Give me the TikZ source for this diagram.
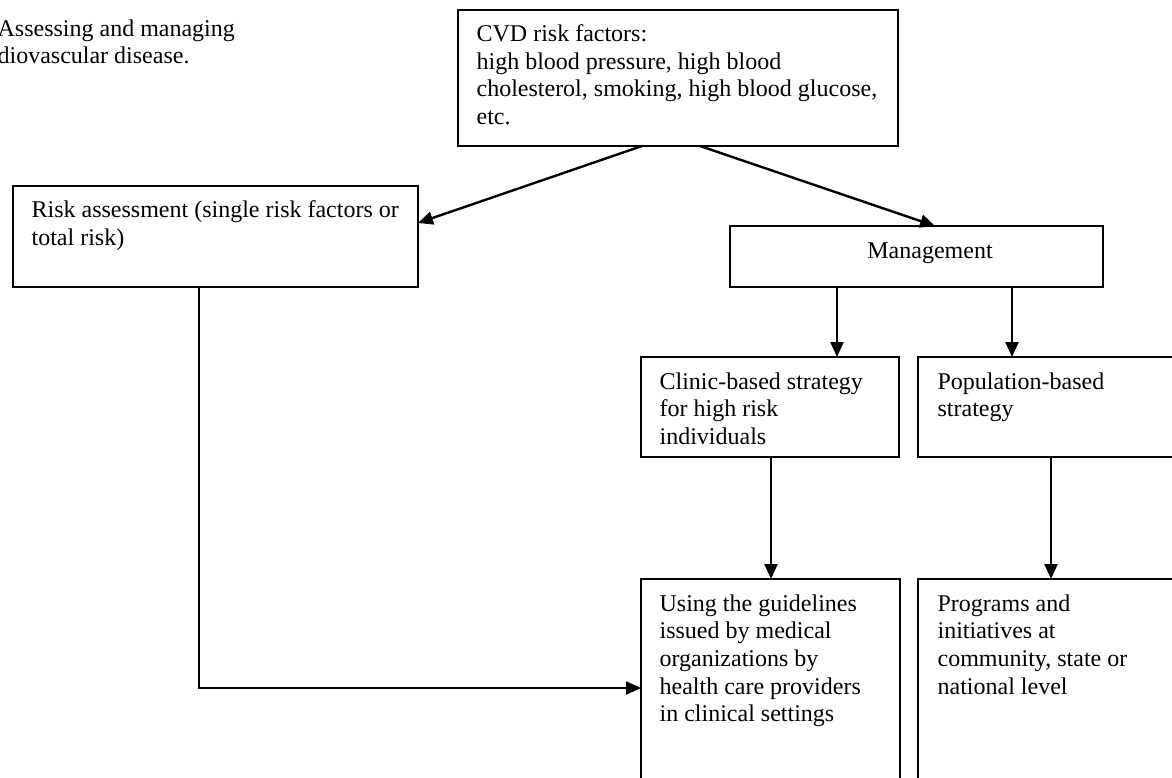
\documentclass[tikz,border=0pt]{standalone}
\usepackage{fontspec}
\setmainfont{Liberation Serif}
\usetikzlibrary{arrows.meta,calc,positioning}

\begin{document}
\begin{tikzpicture}[x=0.5pt,y=0.5pt,>={Triangle[length=7.5pt,width=6.5pt]},
                    semithick]
  \tikzstyle{box}=[rectangle,draw=black,line width=0.8pt,anchor=north west,inner sep=0pt,outer sep=0pt]
  \tikzstyle{txt}=[align=left,inner sep=0pt,font=\fontsize{12pt}{13.8pt}\selectfont]
  \tikzstyle{arr}=[->,line width=1.2pt]

  \useasboundingbox (0,0) rectangle (1172,-777);
  \fill[white] (0,0) rectangle (1172,-777);
  \clip (0,0) rectangle (1172,-777);

  \node[txt,anchor=north west] (title) at (-3,-19) {Assessing and managing\\diovascular disease.};

  % boxes
  \node[box,minimum width=220pt,minimum height=68pt]   (cvd)    at (458,-10)  {};
  \node[box,minimum width=202.5pt,minimum height=50.5pt] (risk) at (13,-186)  {};
  \node[box,minimum width=186.5pt,minimum height=30.5pt] (mgmt) at (730,-226) {};
  \node[box,minimum width=129pt,minimum height=50pt]   (clinic) at (641,-357) {};
  \node[box,minimum width=160pt,minimum height=50pt]   (pop)    at (918,-357) {};
  \node[box,minimum width=129.5pt,minimum height=125pt] (using) at (641,-579) {};
  \node[box,minimum width=160pt,minimum height=125pt]  (prog)   at (918,-579) {};

  % texts
  \node[txt,below right=7pt and 9pt of cvd.north west] (cvdtxt)
    {CVD risk factors:\\high blood pressure, high blood\\cholesterol, smoking, high blood glucose,\\etc.};
  \node[txt,below right=7pt and 9pt of risk.north west] (risktxt)
    {Risk assessment (single risk factors or\\total risk)};
  \node[txt,anchor=base] (mgmttxt) at ($(mgmt.south west)+(200,29)$) {Management};
  \node[txt,below right=7.5pt and 9pt of clinic.north west] (clinictxt)
    {Clinic-based strategy\\for high risk\\individuals};
  \node[txt,below right=7.5pt and 9.5pt of pop.north west] (poptxt)
    {Population-based\\strategy};
  \node[txt,below right=7.5pt and 9pt of using.north west] (usingtxt)
    {Using the guidelines\\issued by medical\\organizations by\\health care providers\\in clinical settings};
  \node[txt,below right=7.5pt and 9.5pt of prog.north west] (progtxt)
    {Programs and\\initiatives at\\community, state or\\national level};

  % connector ends
  \coordinate (cvd1)   at ($(cvd.south west)+(184,0)$);
  \coordinate (cvd2)   at ($(cvd.south west)+(242,0)$);
  \coordinate (riskin) at ($(risk.north east)+(0,-37)$);
  \coordinate (mgmtin) at ($(mgmt.north west)+(205,0)$);
  \coordinate (m1) at ($(mgmt.south west)+(107,0)$);
  \coordinate (m2) at ($(mgmt.south west)+(282,0)$);
  \coordinate (c1) at ($(clinic.south west)+(130,0)$);
  \coordinate (p1) at ($(pop.south west)+(133,0)$);
  \coordinate (r1) at ($(risk.south west)+(186,0)$);
  \coordinate (u1) at ($(using.north west)+(0,-109)$);

  \path[arr] (cvd1) edge (riskin)
   (cvd2) edge (mgmtin)
   (m1) edge (m1 |- clinic.north)
   (m2) edge (m2 |- pop.north)
   (c1) edge (c1 |- using.north)
   (p1) edge (p1 |- prog.north)
   (r1) edge[to path={|- (\tikztotarget)}] (u1);
\end{tikzpicture}
\end{document}
